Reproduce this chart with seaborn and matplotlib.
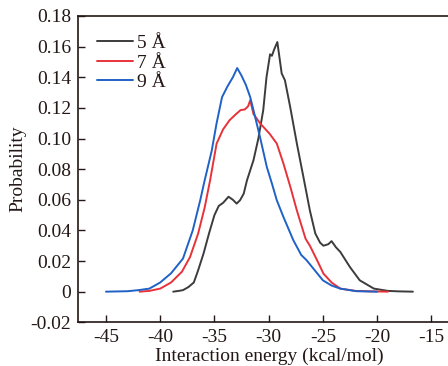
import numpy as np
import pandas as pd
import matplotlib
matplotlib.use("Agg")
import matplotlib.pyplot as plt
import seaborn as sns

# Interaction energy (kcal/mol) and probability
e5 = [-38.8, -38.3, -37.9, -37.4, -36.9, -36.5, -36.0, -35.5, -35.0, -34.6, -34.2, -33.7, -33.3,
      -32.95, -32.64, -32.3, -32.0, -31.4, -30.95, -30.5, -30.2, -29.87, -29.7, -29.5, -29.2,
      -28.8, -28.5, -28.0, -27.4, -26.8, -26.2, -25.7, -25.26, -24.95, -24.5, -24.2, -23.8, -23.4,
      -22.5, -21.6, -20.3, -19.0, -18.0, -16.7]
p5 = [0.000, 0.0005, 0.001, 0.003, 0.006, 0.014, 0.025, 0.038, 0.050, 0.056, 0.058, 0.062, 0.060,
      0.0575, 0.0597, 0.064, 0.0727, 0.0858, 0.100, 0.1185, 0.140, 0.155, 0.154, 0.158, 0.163,
      0.1425, 0.138, 0.120, 0.0967, 0.075, 0.053, 0.038, 0.032, 0.030, 0.031, 0.033, 0.029, 0.026,
      0.016, 0.0074, 0.002, 0.0005, 0.0002, 0.000]

e7 = [-41.9, -41.0, -40.0, -39.0, -38.0, -37.25, -36.5, -35.9, -35.4, -34.8, -34.2, -33.6, -33.0,
      -32.6, -32.2, -31.9, -31.7, -31.4, -30.8, -29.9, -29.25, -28.64, -28.0, -27.4, -26.6, -26.2,
      -25.5, -24.95, -24.2, -23.4, -22.0, -20.5, -19.0]
p7 = [0.000, 0.0005, 0.002, 0.006, 0.013, 0.0226, 0.038, 0.055, 0.0727, 0.0967, 0.106, 0.112, 0.116,
      0.1185, 0.119, 0.121, 0.125, 0.116, 0.110, 0.103, 0.0967, 0.0837, 0.0684, 0.053, 0.0346, 0.030,
      0.020, 0.0118, 0.006, 0.002, 0.0005, 0.0002, 0.000]

e9 = [-45.0, -43.0, -42.0, -41.0, -40.0, -39.0, -37.9, -37.0, -36.3, -35.9, -35.25, -34.8, -34.3,
      -33.8, -33.3, -32.9, -32.5, -32.1, -31.7, -31.4, -30.8, -30.17, -29.7, -29.25, -28.64, -27.72,
      -27.0, -26.5, -25.0, -24.2, -23.4, -21.9, -20.0]
p9 = [0.000, 0.0003, 0.001, 0.002, 0.006, 0.012, 0.0216, 0.040, 0.060, 0.0727, 0.092, 0.110, 0.127,
      0.134, 0.140, 0.146, 0.141, 0.135, 0.127, 0.1185, 0.101, 0.0814, 0.0706, 0.0597, 0.0488, 0.0335,
      0.024, 0.0205, 0.0074, 0.004, 0.002, 0.0003, 0.000]

labels = ["5 Å", "7 Å", "9 Å"]
colors = ["#3c3c3c", "#e8323a", "#1f62c6"]

df = pd.concat([
    pd.DataFrame({"energy": e5, "prob": p5, "cutoff": labels[0]}),
    pd.DataFrame({"energy": e7, "prob": p7, "cutoff": labels[1]}),
    pd.DataFrame({"energy": e9, "prob": p9, "cutoff": labels[2]}),
])

sns.set_theme(style="white")
plt.rcParams["font.family"] = ["Liberation Serif", "DejaVu Serif"]
plt.rcParams["axes.unicode_minus"] = False

fig = plt.figure(figsize=(4.48, 3.66), dpi=100)
ax = fig.add_axes([0.1748, 0.1194, 0.851, 0.8369])

sns.lineplot(data=df, x="energy", y="prob", hue="cutoff", palette=colors,
             hue_order=labels, sort=False, estimator=None, lw=1.4, ax=ax)

ax.set_xlim(-47.55, -12.4)
ax.set_ylim(-0.02, 0.18)
ax.set_xticks([-45, -40, -35, -30, -25, -20, -15])
ax.set_xticklabels(["-45", "-40", "-35", "-30", "-25", "-20", "-15"])
yt = [-0.02, 0, 0.02, 0.04, 0.06, 0.08, 0.10, 0.12, 0.14, 0.16, 0.18]
ax.set_yticks(yt)
ax.set_yticklabels(["-0.02", "0", "0.02", "0.04", "0.06", "0.08", "0.10", "0.12", "0.14",
                    "0.16", "0.18"])
ax.tick_params(axis="both", direction="in", length=5, width=1.0, labelsize=14,
               colors="#231815", pad=5)
ax.tick_params(axis="x", bottom=True, top=False)
ax.tick_params(axis="y", left=True, right=False)
for s in ["left", "bottom", "top"]:
    ax.spines[s].set_color("#231815")
    ax.spines[s].set_linewidth(1.2)
ax.spines["right"].set_visible(False)

ax.set_xlabel("Interaction energy (kcal/mol)", fontsize=14, color="#231815", labelpad=1)
ax.set_ylabel("Probability", fontsize=14, color="#231815", labelpad=3)

leg = ax.legend(loc="upper left", bbox_to_anchor=(0.049, 0.94), frameon=False,
                fontsize=14, handlelength=1.85, handletextpad=0.2, labelspacing=0.1,
                borderaxespad=0, borderpad=0)
for t in leg.get_texts():
    t.set_color("#231815")

fig.savefig("out.png", dpi=100)
